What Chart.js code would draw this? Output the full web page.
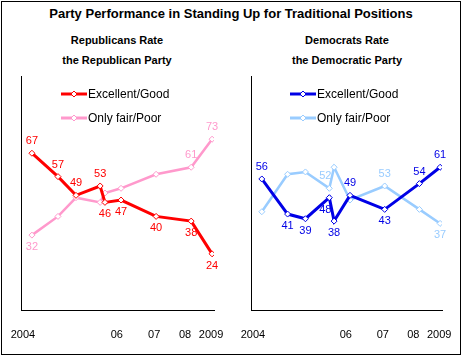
<!DOCTYPE html>
<html><head><meta charset="utf-8">
<script src="https://cdn.jsdelivr.net/npm/chart.js@4"></script>
<style>
html,body{margin:0;padding:0;background:#fff;}
#wrap{position:relative;width:463px;height:357px;overflow:hidden;background:#fff;}
#frame{position:absolute;left:1px;top:1px;width:460px;height:354px;border:1px solid #000;box-sizing:border-box;}
.t{position:absolute;font-family:"Liberation Sans",Arial,sans-serif;font-weight:bold;color:#000;white-space:nowrap;transform:translateX(-50%);line-height:1;}
.pane{position:absolute;top:0;height:357px;}
</style></head><body>
<div id="wrap">
<div id="frame"></div>
<div class="t" style="left:231px;top:7px;font-size:13px">Party Performance in Standing Up for Traditional Positions</div>
<div class="t" style="left:117px;top:35px;font-size:11px">Republicans Rate</div>
<div class="t" style="left:117px;top:55px;font-size:11px">the Republican Party</div>
<div class="t" style="left:347px;top:35px;font-size:11px">Democrats Rate</div>
<div class="t" style="left:347px;top:55px;font-size:11px">the Democratic Party</div>
<div class="pane" style="left:0;width:230px"><canvas id="c1"></canvas></div>
<div class="pane" style="left:230px;width:233px"><canvas id="c2"></canvas></div>
</div>
<script>
// ---- data ----
const surveyDates = [2003.84, 2004.65, 2005.21, 2005.96, 2006.11, 2006.61, 2007.70, 2008.79, 2009.44];
const tickValues = [2003.56, 2006.48, 2007.64, 2008.60, 2009.41];
const tickLabels = ["2004", "06", "07", "08", "2009"];
const seriesNames = ["Excellent/Good", "Only fair/Poor"];
const repExcellent = [67, 57, 49, 53, 46, 47, 40, 38, 24];
const repPoor = [32, 40, 48, 46, 50, 52, 58, 61, 73];
const demExcellent = [56, 41, 39, 48, 38, 49, 43, 54, 61];
const demPoor = [42, 58, 59, 52, 61, 47, 53, 43, 37];

const FONT = '"Liberation Sans", Arial, sans-serif';

const pts = arr => arr.map((v, i) => ({x: surveyDates[i], y: v}));

const labelPlugin = {
  id: 'vlabels',
  afterDatasetsDraw(chart, args, opts) {
    const ctx = chart.ctx;
    chart.data.datasets.forEach((ds, i) => {
      const meta = chart.getDatasetMeta(i);
      const place = opts.place[i] || [];
      meta.data.forEach((pt, j) => {
        const p = place[j];
        if (!p) return;
        let dy = p[0] === 'a' ? -12 : 12;
        let dx = p.length > 1 ? (p[1] === 'L' ? -4 : 0) : 0;
        ctx.save();
        ctx.font = '11px ' + FONT;
        ctx.fillStyle = ds.borderColor;
        ctx.textAlign = 'center';
        ctx.textBaseline = 'middle';
        ctx.fillText(String(ds.data[j].y), pt.x + dx, pt.y + dy);
        ctx.restore();
      });
    });
  }
};

const legendPlugin = {
  id: 'flegend',
  afterDraw(chart, args, opts) {
    const ctx = chart.ctx;
    chart.data.datasets.forEach((ds, i) => {
      const y = opts.y + i * opts.gap;
      const x0 = opts.x;
      ctx.save();
      ctx.strokeStyle = ds.borderColor;
      ctx.lineWidth = 3;
      ctx.beginPath(); ctx.moveTo(x0, y); ctx.lineTo(x0 + 26, y); ctx.stroke();
      const cx = x0 + 13;
      ctx.fillStyle = '#fff'; ctx.lineWidth = 1;
      ctx.beginPath(); ctx.moveTo(cx, y - 3); ctx.lineTo(cx + 3, y); ctx.lineTo(cx, y + 3); ctx.lineTo(cx - 3, y); ctx.closePath();
      ctx.fill(); ctx.stroke();
      ctx.fillStyle = '#000';
      ctx.font = '12px ' + FONT;
      ctx.textAlign = 'left'; ctx.textBaseline = 'middle';
      ctx.fillText(ds.label, x0 + 27, y + 1);
      ctx.restore();
    });
  }
};

function makeChart(id, dataA, dataB, colA, colB, padRight, legendX, place) {
  const mk = (label, data, col, w) => ({
    label, data: pts(data), borderColor: col, backgroundColor: '#fff',
    borderWidth: w, pointRadius: 3, pointStyle: 'rectRot', pointBorderWidth: 1,
    pointBorderColor: col, pointBackgroundColor: '#fff', tension: 0
  });
  return new Chart(document.getElementById(id), {
    type: 'line',
    data: { datasets: [mk(seriesNames[0], dataA, colA, 3), mk(seriesNames[1], dataB, colB, 2.5)] },
    options: {
      responsive: true, maintainAspectRatio: false, animation: false,
      layout: { padding: { top: 76, right: padRight, left: 0, bottom: 0 } },
      plugins: { legend: { display: false }, tooltip: { enabled: false },
        vlabels: { place }, flegend: { x: legendX, y: 94, gap: 24 } },
      scales: {
        x: {
          type: 'linear', min: 2003.5, max: 2009.5,
          grid: { display: false, drawTicks: false },
          border: { display: true, color: '#000', width: 1 },
          afterBuildTicks: s => { s.ticks = tickValues.map(v => ({ value: v })); },
          afterFit: s => { s.height = 47; s.paddingLeft = 0; s.paddingRight = 0; },
          ticks: { autoSkip: false, maxRotation: 0, padding: 18, color: '#000',
            font: { family: FONT, size: 11 },
            callback: (v) => tickLabels[tickValues.indexOf(v)] }
        },
        y: {
          min: 0, max: 100,
          grid: { display: false, drawTicks: false },
          border: { display: true, color: '#000', width: 1 },
          ticks: { display: false },
          afterFit: s => { s.width = 21; s.paddingTop = 0; s.paddingBottom = 0; }
        }
      }
    },
    plugins: [labelPlugin, legendPlugin]
  });
}

makeChart('c1', repExcellent, repPoor, '#ff0000', '#ff99cc', 16, 61,
  [['a','a','a','a','b','b','b','b','b'], ['b','','','','','','','a','a']]);
makeChart('c2', demExcellent, demPoor, '#0000e6', '#99ccff', 21, 60,
  [['a','b','b','bL','b','a','b','a','a'], ['','','','aL','','','a','','b']]);
</script>
</body></html>
